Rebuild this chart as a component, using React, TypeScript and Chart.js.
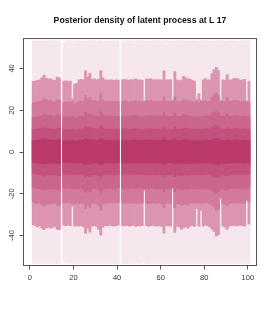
import React, { useEffect, useRef } from "react";
import { Chart, registerables } from "chart.js";

Chart.register(...registerables);

const TITLE = "Posterior density of latent process at L 17";

// column index (each column spans [k, k+1])
const COLUMNS = [
  1, 2, 3, 4, 5, 6, 7, 8, 9, 10, 11, 12, 13, 14, 15, 16, 17, 18, 19, 20,
  21, 22, 23, 24, 25, 26, 27, 28, 29, 30, 31, 32, 33, 34, 35, 36, 37, 38, 39, 40,
  41, 42, 43, 44, 45, 46, 47, 48, 49, 50, 51, 52, 53, 54, 55, 56, 57, 58, 59, 60,
  61, 62, 63, 64, 65, 66, 67, 68, 69, 70, 71, 72, 73, 74, 75, 76, 77, 78, 79, 80,
  81, 82, 83, 84, 85, 86, 87, 88, 89, 90, 91, 92, 93, 94, 95, 96, 97, 98, 99, 100,
];

const X_TICKS = [0, 20, 40, 60, 80, 100];
const Y_TICKS = [-40, -20, 0, 20, 40];

const OUTER_HI = [
  53.2, 53.1, 53.3, 53.2, 53.2, 53.3, 53.1, 53.2, 53.2, 53.3,
  53.2, 53.1, 53.2, null, 52.4, 53.2, 53.3, 53.2, 53.1, 53.2,
  53.2, 53.3, 53.2, 53.1, 53.2, 53.2, 53.3, 53.2, 53.2, 53.1,
  53.2, 53.3, 53.2, 53.2, 53.1, 53.2, 53.2, 53.3, 53.2, 53.2,
  null, 53.2, 53.1, 53.2, 53.3, 53.2, 53.2, 53.1, 53.2, 53.2,
  53.3, 53.2, 53.2, 53.1, 53.2, 53.2, 53.3, 53.2, 53.2, 53.1,
  53.2, 53.3, 53.2, 53.2, 53.1, 53.2, 53.2, 53.3, 53.2, 53.2,
  53.1, 53.2, 53.2, 53.3, 53.2, 53.2, 53.1, 53.2, 53.2, 53.3,
  53.2, 53.2, 53.1, 53.2, 53.2, 53.3, 53.2, 53.2, 53.1, 53.2,
  53.2, 53.3, 53.2, 53.2, 53.1, 53.2, 53.2, 53.3, 53.2, 53.2,
];
const OUTER_LO = [
  -53.3, -53.2, -53.3, -53.3, -53.2, -53.3, -53.3, -53.2, -53.3, -53.3,
  -53.2, -53.3, -53.3, null, -52.4, -53.3, -53.2, -53.3, -53.3, -53.2,
  -53.3, -53.3, -53.2, -53.3, -53.3, -53.2, -53.3, -53.3, -53.2, -53.3,
  -53.3, -53.2, -53.3, -53.3, -53.2, -53.3, -53.3, -53.2, -53.3, -53.3,
  null, -53.3, -53.2, -53.3, -53.3, -53.2, -53.3, -53.3, -53.2, -53.3,
  -53.3, -52.4, -53.3, -53.3, -53.2, -53.3, -53.3, -53.2, -53.3, -53.3,
  -53.2, -53.3, -53.3, -53.2, -53.3, -53.3, -53.2, -53.3, -53.3, -53.2,
  -53.3, -53.3, -53.2, -53.3, -53.3, -53.2, -53.3, -53.3, -53.2, -53.3,
  -53.3, -53.2, -53.3, -53.3, -53.2, -53.3, -53.3, -53.2, -53.3, -53.3,
  -53.2, -53.3, -53.3, -53.2, -53.3, -53.3, -53.2, -53.3, -53.3, -53.2,
];

const B2_HI = [
  33.8, 34.0, 34.3, 34.6, 35.5, 36.8, 35.3, 34.9, 35.0, 34.5,
  34.3, 35.8, 35.5, null, 33.9, 34.1, 33.8, 34.0, 25.6, 32.5,
  32.8, 34.5, 34.8, 34.6, 38.8, 36.0, 37.6, 34.7, 35.0, 34.5,
  34.8, 39.0, 35.5, 34.5, 34.4, 34.6, 34.5, 34.3, 34.5, 34.4,
  null, 34.5, 34.8, 34.6, 34.4, 34.7, 34.5, 35.0, 34.6, 34.5,
  34.3, 24.6, 35.0, 34.8, 35.2, 34.6, 34.5, 34.7, 34.5, 34.6,
  38.8, 34.5, 34.6, 34.5, 24.8, 38.5, 34.5, 34.2, 34.4, 36.2,
  35.5, 35.0, 34.8, 34.3, 34.0, 25.2, 28.0, 25.0, 34.5, 35.2,
  34.4, 34.5, 37.5, 39.5, 40.5, 39.0, 24.8, 34.5, 34.4, 37.0,
  34.5, 34.6, 35.2, 35.3, 35.0, 34.3, 34.5, 34.8, 24.5, 33.8,
];
const B2_LO = [
  -34.9, -35.2, -35.8, -35.5, -36.5, -37.2, -36.2, -36.0, -36.4, -36.0,
  -35.8, -37.0, -37.2, null, -35.0, -35.2, -34.9, -35.3, -26.0, -35.5,
  -35.4, -35.5, -35.2, -35.8, -38.9, -36.5, -38.4, -35.5, -35.3, -35.6,
  -37.0, -39.8, -36.0, -35.2, -35.4, -35.0, -35.3, -35.5, -35.2, -35.0,
  null, -35.2, -35.4, -35.1, -35.5, -35.3, -35.0, -35.6, -35.2, -35.4,
  -35.3, -18.2, -35.2, -35.6, -35.3, -35.0, -35.4, -35.5, -35.2, -35.6,
  -38.8, -35.4, -35.2, -35.5, -17.2, -38.5, -35.6, -35.8, -37.0, -36.2,
  -35.8, -36.4, -35.5, -35.3, -35.6, -27.0, -35.5, -28.0, -35.5, -35.0,
  -35.3, -35.8, -37.0, -38.0, -40.2, -39.5, -22.0, -35.5, -36.0, -37.0,
  -35.5, -35.3, -35.0, -35.4, -35.2, -35.0, -35.3, -35.5, -23.0, -34.5,
];

const B3_HI = [
  23.5, 23.8, 24.0, 24.2, 24.6, 25.8, 25.0, 24.4, 24.6, 24.0,
  24.1, 25.0, 24.8, null, 23.6, 23.9, 23.8, 24.0, 24.2, 23.0,
  23.4, 24.2, 24.5, 24.3, 27.0, 25.2, 26.0, 24.4, 24.6, 24.2,
  24.5, 28.3, 25.0, 24.1, 24.2, 24.4, 24.3, 24.0, 24.2, 24.1,
  null, 24.2, 24.5, 24.3, 24.1, 24.4, 24.2, 24.6, 24.3, 24.2,
  24.0, 24.0, 24.6, 24.4, 24.8, 24.3, 24.2, 24.4, 24.2, 24.3,
  26.5, 24.2, 24.3, 24.2, 24.3, 26.4, 24.2, 24.0, 24.1, 25.2,
  24.8, 24.6, 24.4, 24.0, 23.8, 24.2, 23.5, 24.2, 24.2, 24.6,
  24.1, 24.2, 26.0, 27.5, 28.2, 27.0, 24.3, 24.2, 24.1, 25.8,
  24.2, 24.3, 24.6, 24.7, 24.5, 24.0, 24.2, 24.4, 24.0, 23.6,
];
const B3_LO = [
  -24.0, -24.3, -24.6, -24.5, -25.2, -25.8, -25.0, -24.8, -25.0, -24.7,
  -24.6, -25.4, -25.6, null, -24.2, -24.4, -24.1, -24.5, -24.6, -24.6,
  -24.5, -24.6, -24.4, -24.8, -27.0, -25.4, -26.6, -24.6, -24.5, -24.7,
  -25.6, -28.0, -25.0, -24.4, -24.5, -24.2, -24.4, -24.6, -24.3, -24.2,
  null, -24.4, -24.5, -24.3, -24.6, -24.4, -24.2, -24.7, -24.4, -24.5,
  -24.4, -18.2, -24.4, -24.7, -24.5, -24.2, -24.5, -24.6, -24.4, -24.7,
  -26.8, -24.5, -24.4, -24.6, -17.2, -26.6, -24.7, -24.9, -25.6, -25.2,
  -24.9, -25.3, -24.6, -24.5, -24.7, -24.5, -24.6, -24.5, -24.6, -24.2,
  -24.5, -24.8, -25.6, -26.4, -28.0, -27.4, -22.0, -24.6, -25.0, -25.6,
  -24.6, -24.5, -24.2, -24.5, -24.4, -24.2, -24.5, -24.6, -23.0, -24.0,
];

const B4_HI = [
  16.6, 16.8, 17.0, 17.2, 17.5, 18.2, 17.8, 17.3, 17.4, 17.0,
  17.1, 17.8, 17.6, null, 16.7, 16.9, 16.8, 17.0, 17.2, 16.4,
  16.6, 17.1, 17.3, 17.2, 19.0, 17.8, 18.4, 17.3, 17.4, 17.1,
  17.3, 19.2, 17.8, 17.1, 17.2, 17.3, 17.2, 17.0, 17.1, 17.0,
  null, 17.1, 17.3, 17.2, 17.0, 17.3, 17.1, 17.4, 17.2, 17.1,
  17.0, 17.2, 17.4, 17.3, 17.6, 17.2, 17.1, 17.3, 17.1, 17.2,
  18.8, 17.1, 17.2, 17.1, 17.0, 18.6, 17.1, 17.0, 17.1, 17.8,
  17.6, 17.4, 17.3, 17.0, 16.9, 17.1, 16.8, 17.0, 17.1, 17.4,
  17.1, 17.2, 18.2, 19.0, 19.4, 18.8, 17.2, 17.1, 17.0, 18.2,
  17.1, 17.2, 17.4, 17.5, 17.3, 17.0, 17.1, 17.3, 17.0, 16.7,
];
const B4_LO = [
  -17.0, -17.3, -17.5, -17.4, -17.9, -18.4, -17.9, -17.7, -17.8, -17.6,
  -17.5, -18.0, -18.2, null, -17.2, -17.4, -17.1, -17.5, -17.6, -17.6,
  -17.5, -17.6, -17.4, -17.8, -19.2, -18.0, -18.9, -17.6, -17.5, -17.7,
  -18.2, -19.8, -17.9, -17.4, -17.5, -17.2, -17.4, -17.6, -17.3, -17.2,
  null, -17.4, -17.5, -17.3, -17.6, -17.4, -17.2, -17.7, -17.4, -17.5,
  -17.4, -17.6, -17.4, -17.7, -17.5, -17.2, -17.5, -17.6, -17.4, -17.7,
  -19.0, -17.5, -17.4, -17.6, -17.2, -18.8, -17.7, -17.9, -18.2, -17.9,
  -17.8, -18.0, -17.6, -17.5, -17.7, -17.5, -17.6, -17.5, -17.6, -17.2,
  -17.5, -17.8, -18.2, -18.8, -19.6, -19.2, -17.5, -17.6, -17.9, -18.3,
  -17.6, -17.5, -17.2, -17.5, -17.4, -17.2, -17.5, -17.6, -17.3, -17.0,
];

const B5_HI = [
  10.7, 10.8, 11.0, 11.1, 11.3, 11.8, 11.5, 11.1, 11.2, 10.9,
  11.0, 11.5, 11.4, null, 10.7, 10.8, 10.7, 10.9, 11.0, 10.5,
  10.6, 11.0, 11.1, 11.0, 12.3, 11.5, 11.9, 11.1, 11.2, 11.0,
  11.1, 12.5, 11.5, 11.0, 11.0, 11.1, 11.0, 10.9, 11.0, 10.9,
  null, 11.0, 11.1, 11.0, 10.9, 11.1, 11.0, 11.2, 11.0, 11.0,
  10.9, 11.0, 11.2, 11.1, 11.3, 11.0, 11.0, 11.1, 11.0, 11.0,
  12.2, 11.0, 11.0, 10.9, 10.9, 12.1, 11.0, 10.9, 11.0, 11.5,
  11.4, 11.2, 11.1, 10.9, 10.8, 11.0, 10.8, 10.9, 11.0, 11.2,
  11.0, 11.0, 11.7, 12.3, 12.6, 12.1, 11.0, 11.0, 10.9, 11.7,
  11.0, 11.0, 11.2, 11.3, 11.1, 10.9, 11.0, 11.1, 10.9, 10.7,
];
const B5_LO = [
  -10.4, -10.6, -10.8, -10.7, -11.1, -11.5, -11.1, -10.9, -11.0, -10.8,
  -10.8, -11.2, -11.3, null, -10.5, -10.7, -10.5, -10.8, -10.8, -10.8,
  -10.8, -10.9, -10.7, -11.0, -12.0, -11.2, -11.8, -10.9, -10.8, -10.9,
  -11.3, -12.4, -11.1, -10.7, -10.8, -10.6, -10.7, -10.9, -10.7, -10.6,
  null, -10.7, -10.8, -10.7, -10.9, -10.7, -10.6, -10.9, -10.7, -10.8,
  -10.7, -10.8, -10.7, -10.9, -10.8, -10.6, -10.8, -10.9, -10.7, -10.9,
  -11.9, -10.8, -10.7, -10.9, -10.6, -11.8, -10.9, -11.1, -11.3, -11.1,
  -11.0, -11.2, -10.9, -10.8, -10.9, -10.8, -10.9, -10.8, -10.9, -10.6,
  -10.8, -11.0, -11.3, -11.8, -12.3, -12.0, -10.8, -10.9, -11.1, -11.4,
  -10.9, -10.8, -10.6, -10.8, -10.7, -10.6, -10.8, -10.9, -10.7, -10.5,
];

const B6_HI = [
  5.4, 5.5, 5.6, 5.7, 5.8, 6.2, 6.0, 5.7, 5.8, 5.6,
  5.6, 6.0, 5.9, null, 5.4, 5.5, 5.4, 5.6, 5.6, 5.3,
  5.4, 5.6, 5.7, 5.6, 6.4, 6.0, 6.2, 5.7, 5.7, 5.6,
  5.7, 6.6, 6.0, 5.6, 5.6, 5.7, 5.6, 5.5, 5.6, 5.5,
  null, 5.6, 5.7, 5.6, 5.5, 5.7, 5.6, 5.8, 5.6, 5.6,
  5.5, 5.6, 5.8, 5.7, 5.8, 5.6, 5.6, 5.7, 5.6, 5.6,
  6.4, 5.6, 5.6, 5.5, 5.5, 6.3, 5.6, 5.5, 5.6, 6.0,
  5.9, 5.8, 5.7, 5.5, 5.4, 5.6, 5.4, 5.5, 5.6, 5.8,
  5.6, 5.6, 6.1, 6.4, 6.6, 6.3, 5.6, 5.6, 5.5, 6.1,
  5.6, 5.6, 5.8, 5.8, 5.7, 5.5, 5.6, 5.7, 5.5, 5.4,
];
const B6_LO = [
  -5.0, -5.1, -5.2, -5.2, -5.4, -5.7, -5.4, -5.3, -5.3, -5.2,
  -5.2, -5.5, -5.5, null, -5.0, -5.1, -5.0, -5.2, -5.2, -5.2,
  -5.2, -5.3, -5.2, -5.3, -5.9, -5.5, -5.8, -5.3, -5.2, -5.3,
  -5.5, -6.1, -5.4, -5.2, -5.2, -5.1, -5.2, -5.3, -5.2, -5.1,
  null, -5.2, -5.2, -5.2, -5.3, -5.2, -5.1, -5.3, -5.2, -5.2,
  -5.2, -5.2, -5.2, -5.3, -5.2, -5.1, -5.2, -5.3, -5.2, -5.3,
  -5.9, -5.2, -5.2, -5.3, -5.1, -5.8, -5.3, -5.4, -5.5, -5.4,
  -5.3, -5.4, -5.3, -5.2, -5.3, -5.2, -5.3, -5.2, -5.3, -5.1,
  -5.2, -5.3, -5.5, -5.8, -6.0, -5.9, -5.2, -5.3, -5.4, -5.5,
  -5.3, -5.2, -5.1, -5.2, -5.2, -5.1, -5.2, -5.3, -5.2, -5.1,
];

// innermost first (drawn on top)
const BANDS = [
  { label: "band 6", lo: B6_LO, hi: B6_HI, color: "#bb3a6c" },
  { label: "band 5", lo: B5_LO, hi: B5_HI, color: "#c3517f" },
  { label: "band 4", lo: B4_LO, hi: B4_HI, color: "#ca668d" },
  { label: "band 3", lo: B3_LO, hi: B3_HI, color: "#d27a9d" },
  { label: "band 2", lo: B2_LO, hi: B2_HI, color: "#dc95b1" },
  { label: "outer", lo: OUTER_LO, hi: OUTER_HI, color: "#f6e7ee" },
];

const FONT = "'Liberation Sans', Arial, Helvetica, sans-serif";
const AXIS_COLOR = "#555555";

const boxPlugin = {
  id: "rbox",
  afterDraw(chart: any) {
    const { ctx, chartArea: a } = chart;
    ctx.save();
    ctx.strokeStyle = AXIS_COLOR;
    ctx.lineWidth = 1;
    ctx.strokeRect(a.left, a.top, a.right - a.left, a.bottom - a.top);
    ctx.restore();
  },
};

export default function App() {
  const ref = useRef<HTMLCanvasElement | null>(null);

  useEffect(() => {
    if (!ref.current) return;
    const datasets = BANDS.map((b, bi) => ({
      label: b.label,
      data: COLUMNS.flatMap((c, i) =>
        b.lo[i] == null || b.hi[i] == null ? [] : [{ x: c + 0.5, y: [b.lo[i], b.hi[i]] }]
      ),
      backgroundColor: b.color,
      borderWidth: 0,
      grouped: false,
      barPercentage: 1,
      categoryPercentage: 1,
      order: bi,
    }));

    const chart = new Chart(ref.current, {
      type: "bar",
      data: { datasets: datasets as any },
      options: {
        animation: false,
        responsive: false,
        devicePixelRatio: 1,
        events: [],
        layout: { padding: { left: 0, right: 18.5, top: 0, bottom: 0 } },
        plugins: {
          legend: { display: false },
          tooltip: { enabled: false },
          title: {
            display: true,
            fullSize: false,
            text: TITLE,
            color: "#111111",
            font: { family: FONT, size: 8.7, weight: "bold" },
            padding: { top: 15.5, bottom: 12.6 },
          },
        },
        scales: {
          x: {
            type: "linear",
            min: -2.96,
            max: 103.96,
            offset: false,
            grid: {
              offset: false,
              drawOnChartArea: false,
              drawTicks: true,
              tickLength: 4,
              color: AXIS_COLOR,
            },
            border: { display: false },
            ticks: {
              autoSkip: false,
              maxRotation: 0,
              minRotation: 0,
              padding: 4,
              color: "#333333",
              font: { family: FONT, size: 7.5 },
              callback: (v: any) => String(v),
            },
            afterBuildTicks: (s: any) => {
              s.ticks = X_TICKS.map((v) => ({ value: v }));
            },
            afterFit: (s: any) => {
              s.height = 48.5;
              s.paddingLeft = 0;
              s.paddingRight = 0;
            },
          },
          y: {
            type: "linear",
            min: -54.3,
            max: 54.3,
            grid: {
              drawOnChartArea: false,
              drawTicks: true,
              tickLength: 4,
              color: AXIS_COLOR,
            },
            border: { display: false },
            ticks: {
              autoSkip: false,
              minRotation: 90,
              maxRotation: 90,
              crossAlign: "center",
              padding: 2,
              color: "#333333",
              font: { family: FONT, size: 7.5 },
              callback: (v: any) => String(v),
            },
            afterBuildTicks: (s: any) => {
              s.ticks = Y_TICKS.map((v) => ({ value: v }));
            },
            afterFit: (s: any) => {
              s.width = 23.5;
              s.paddingTop = 0;
              s.paddingBottom = 0;
            },
          },
        },
      } as any,
      plugins: [boxPlugin],
    });
    return () => chart.destroy();
  }, []);

  return (
    <div style={{ position: "fixed", left: 0, top: 0, width: 275, height: 314, background: "#ffffff" }}>
      <canvas ref={ref} width={275} height={314} style={{ display: "block" }} />
    </div>
  );
}
